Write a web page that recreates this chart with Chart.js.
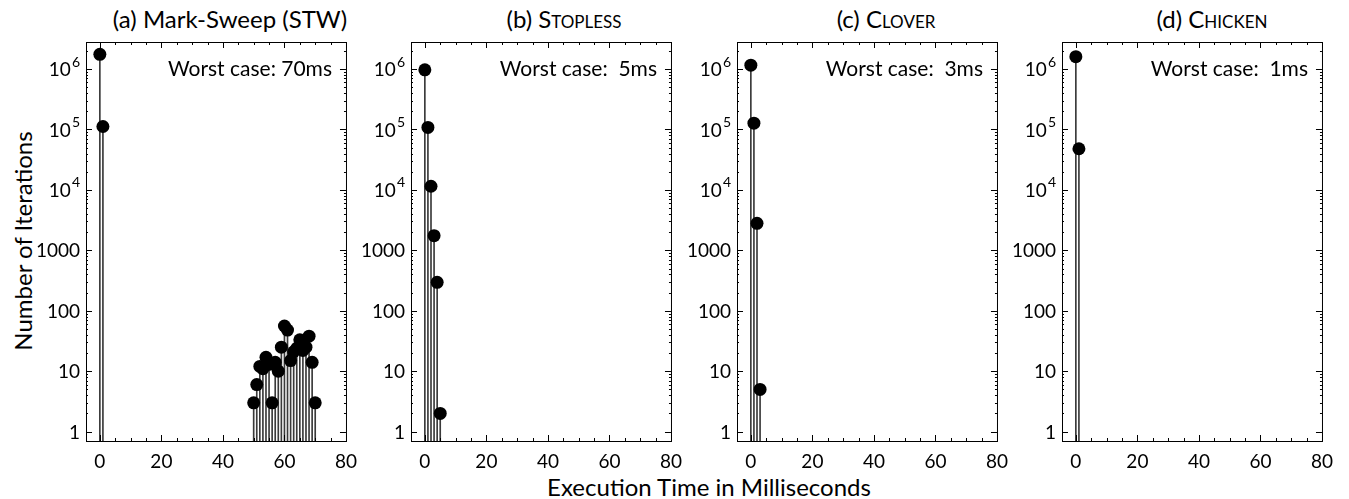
<!DOCTYPE html>
<html>
<head>
<meta charset="utf-8">
<script src="https://cdn.jsdelivr.net/npm/chart.js@4.4.1/dist/chart.umd.min.js"></script>
<style>
    body { margin: 0; background: #fff; width: 1349px; height: 499px; position: relative; overflow: hidden; font-family: Lato, sans-serif; color: #000; }
    .panel { position: absolute; top: 0; width: 350px; height: 499px; z-index: 2; }
    .title { position: absolute; top: 5px; font-size: 24px; transform: translateX(-50%); white-space: nowrap; line-height: 28px; }
    .sc { font-variant: small-caps; }
    .ytitle { position: absolute; left: 22px; top: 241px; font-size: 24px; white-space: nowrap; transform: translate(-50%, -50%) rotate(-90deg); }
    .xtitle { position: absolute; left: 709px; top: 487px; font-size: 24px; line-height: 24px; white-space: nowrap; transform: translate(-50%, -50%); }
</style>
</head>
<body>
<div class="title" style="left:230px">(a) Mark-Sweep (STW)</div>
<div class="title" style="left:564px">(b) <span class="sc">Stopless</span></div>
<div class="title" style="left:886px">(c) <span class="sc">Clover</span></div>
<div class="title" style="left:1212px">(d) <span class="sc">Chicken</span></div>
<div class="ytitle">Number of Iterations</div>
<div class="xtitle">Execution Time in Milliseconds</div>

<div class="panel" style="left:16px"><canvas id="chartA" width="350" height="499"></canvas></div>
<div class="panel" style="left:341px"><canvas id="chartB" width="350" height="499"></canvas></div>
<div class="panel" style="left:667px"><canvas id="chartC" width="350" height="499"></canvas></div>
<div class="panel" style="left:992px"><canvas id="chartD" width="350" height="499"></canvas></div>

<script>
// data
const markSweepTimes = [0, 1, 50, 51, 52, 53, 54, 55, 56, 57, 58, 59, 60, 61, 62, 63, 64, 65, 66, 67, 68, 69, 70];
const markSweepCounts = [1750000, 112000, 3, 6, 12, 11, 17, 13, 3, 14, 10, 25, 56, 48, 15, 21, 24, 33, 22, 25, 38, 14, 3];

const stoplessTimes = [0, 1, 2, 3, 4, 5];
const stoplessCounts = [970000, 108000, 11500, 1750, 295, 2];

const cloverTimes = [0, 1, 2, 3];
const cloverCounts = [1160000, 127000, 2800, 5];

const chickenTimes = [0, 1];
const chickenCounts = [1600000, 48000];

const worstCases = ['70ms', ' 5ms', ' 3ms', ' 1ms'];

const xTicks = [0, 20, 40, 60, 80];
const yTicks = [1, 10, 100, 1000, 10000, 100000, 1000000];
const yTickLabels = [['1'], ['10'], ['100'], ['1000'], ['10', '4'], ['10', '5'], ['10', '6']];

const FONT = 'Lato, sans-serif';

/* =====================
   FRAME, TICKS, LABELS
===================== */
const framePlugin = {
    id: 'frame',
    afterDraw(chart, args, opts) {
        const { ctx, chartArea: a, scales: { x, y } } = chart;
        ctx.save();
        ctx.strokeStyle = '#000';
        ctx.lineWidth = 1;
        ctx.strokeRect(a.left + 0.5, a.top + 0.5, a.right - a.left, a.bottom - a.top);

        ctx.beginPath();
        // x ticks, every 5 with longer ones at labels
        for (let v = 0; v <= 80; v += 5) {
            const px = Math.round(x.getPixelForValue(v)) + 0.5;
            const len = v % 20 === 0 ? 6 : 3;
            ctx.moveTo(px, a.bottom); ctx.lineTo(px, a.bottom - len);
            ctx.moveTo(px, a.top); ctx.lineTo(px, a.top + len);
        }
        // y ticks, decades plus minor
        for (let e = 0; e <= 6; e++) {
            for (let m = 1; m <= 9; m++) {
                const v = m * Math.pow(10, e);
                if (v > y.max) continue;
                const py = Math.round(y.getPixelForValue(v)) + 0.5;
                const len = m === 1 ? 6 : 2;
                ctx.moveTo(a.left, py); ctx.lineTo(a.left + len, py);
                ctx.moveTo(a.right, py); ctx.lineTo(a.right - len, py);
            }
        }
        ctx.stroke();

        // y labels with real superscripts
        ctx.fillStyle = '#000';
        ctx.textBaseline = 'middle';
        yTicks.forEach((v, i) => {
            const py = y.getPixelForValue(v);
            const [base, sup] = yTickLabels[i];
            let right = a.left - 6;
            if (sup) {
                ctx.font = '14px ' + FONT;
                ctx.textAlign = 'right';
                ctx.fillText(sup, right, py - 7);
                right -= ctx.measureText(sup).width + 1;
            }
            ctx.font = '19px ' + FONT;
            ctx.textAlign = 'right';
            ctx.fillText(base, right, py + 1);
        });

        // worst case note
        ctx.font = '21px ' + FONT;
        ctx.textAlign = 'right';
        ctx.fillText('Worst case: ' + opts.text, a.right - 14, y.getPixelForValue(1000000));
        ctx.restore();
    },
};

/* =====================
   PANELS
===================== */
const makePanel = (id, times, counts, worst) => {
    const pts = times.map((t, i) => ({ x: t, y: counts[i] }));
    return new Chart(document.getElementById(id), {
        type: 'scatter',
        data: {
            datasets: [
                {
                    type: 'scatter',
                    data: pts,
                    pointRadius: 6.5,
                    pointBackgroundColor: '#000',
                    pointBorderColor: '#000',
                    pointBorderWidth: 0,
                    order: 0,
                },
                {
                    type: 'bar',
                    data: pts,
                    backgroundColor: '#3a3a3a',
                    barThickness: 1,
                    order: 1,
                },
            ],
        },
        options: {
            responsive: false,
            animation: false,
            layout: { padding: { top: 42, right: 13, bottom: 28, left: 0 } },
            plugins: {
                legend: { display: false },
                tooltip: { enabled: false },
                frame: { text: worst },
            },
            scales: {
                x: {
                    type: 'linear',
                    offset: false,
                    min: -4.5,
                    max: 80,
                    grid: { display: false, offset: false, drawTicks: false },
                    border: { display: false },
                    afterBuildTicks: (s) => { s.ticks = xTicks.map((v) => ({ value: v })); },
                    afterFit: (s) => { s.height = 30; },
                    ticks: { color: '#000', padding: 9, font: { family: FONT, size: 19 }, maxRotation: 0 },
                },
                y: {
                    type: 'logarithmic',
                    min: 0.71,
                    max: 2800000,
                    grid: { display: false },
                    border: { display: false },
                    afterBuildTicks: (s) => { s.ticks = yTicks.map((v) => ({ value: v })); },
                    afterFit: (s) => { s.width = 70; },
                    ticks: { display: false },
                },
            },
        },
        plugins: [framePlugin],
    });
};

makePanel('chartA', markSweepTimes, markSweepCounts, worstCases[0]);
makePanel('chartB', stoplessTimes, stoplessCounts, worstCases[1]);
makePanel('chartC', cloverTimes, cloverCounts, worstCases[2]);
makePanel('chartD', chickenTimes, chickenCounts, worstCases[3]);
</script>
</body>
</html>
